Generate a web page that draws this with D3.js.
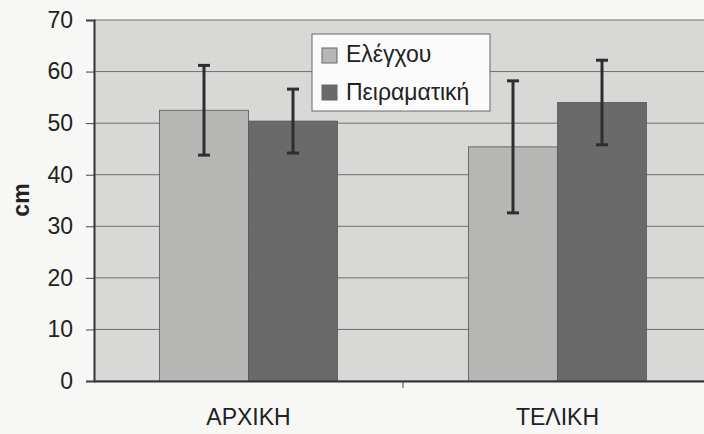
<!DOCTYPE html>
<html>
<head>
<meta charset="utf-8">
<script src="https://cdn.jsdelivr.net/npm/d3@7"></script>
<style>
  body { margin: 0; background: #f7f7f6; }
  svg { display: block; font-family: Arial, "Liberation Sans", sans-serif; }
</style>
</head>
<body>
<svg id="chart" width="704" height="434"></svg>
<script>
// Dữ liệu
const categories = ["ΑΡΧΙΚΗ", "ΤΕΛΙΚΗ"];
const seriesNames = ["Ελέγχου", "Πειραματική"];
const controlValues = [52.5, 45.4];
const controlErrors = [8.7, 12.8];
const experimentalValues = [50.4, 54.0];
const experimentalErrors = [6.2, 8.2];
const yTicks = [0, 10, 20, 30, 40, 50, 60, 70];

const rows = [];
categories.forEach((c, i) => {
  rows.push({cat: c, series: seriesNames[0], value: controlValues[i], err: controlErrors[i]});
  rows.push({cat: c, series: seriesNames[1], value: experimentalValues[i], err: experimentalErrors[i]});
});

const svg = d3.select("#chart"),
      margin = {top: 20, right: -8, bottom: 53, left: 94},
      width = +svg.attr("width") - margin.left - margin.right,
      height = +svg.attr("height") - margin.top - margin.bottom;

const g = svg.append("g").attr("transform", `translate(${margin.left},${margin.top})`);

const x = d3.scaleBand().domain(categories).range([0, width]).paddingInner(0).paddingOuter(0);
const x1 = d3.scaleBand().domain(seriesNames).range([65.5, x.bandwidth() - 65.5]);
const y = d3.scaleLinear().domain([0, 70]).range([height, 0]);

const color = d3.scaleOrdinal().domain(seriesNames).range(["#b6b6b4", "#6a6a6a"]);

// Nền vùng vẽ
g.append("rect")
  .attr("width", width).attr("height", height)
  .attr("fill", "#d8d8d6");

// Lưới ngang
g.selectAll("line.grid")
  .data(yTicks)
  .enter().append("line")
    .attr("class", "grid")
    .attr("x1", 0).attr("x2", width)
    .attr("y1", d => y(d)).attr("y2", d => y(d))
    .attr("stroke", "#6e6e6e").attr("stroke-width", 1);

// Vẽ cột
g.selectAll("rect.bar")
  .data(rows)
  .enter().append("rect")
    .attr("class", "bar")
    .attr("x", d => x(d.cat) + x1(d.series))
    .attr("y", d => y(d.value))
    .attr("width", x1.bandwidth())
    .attr("height", d => height - y(d.value))
    .attr("fill", d => color(d.series))
    .attr("stroke", "#555").attr("stroke-width", 0.8);

// Thanh sai số
const eb = g.selectAll("g.err")
  .data(rows)
  .enter().append("g")
    .attr("class", "err")
    .attr("transform", d => `translate(${x(d.cat) + x1(d.series) + x1.bandwidth() / 2},0)`);
eb.append("line")
  .attr("y1", d => y(d.value + d.err)).attr("y2", d => y(d.value - d.err))
  .attr("stroke", "#2e2e2e").attr("stroke-width", 3);
eb.selectAll("line.cap")
  .data(d => [d.value + d.err, d.value - d.err])
  .enter().append("line")
    .attr("class", "cap")
    .attr("x1", -6).attr("x2", 6)
    .attr("y1", v => y(v)).attr("y2", v => y(v))
    .attr("stroke", "#2e2e2e").attr("stroke-width", 3);

// Trục Y
const yAxis = g.append("g")
  .call(d3.axisLeft(y).tickValues(yTicks).tickSize(8).tickPadding(13));
yAxis.select(".domain").attr("stroke", "#333").attr("stroke-width", 2);
yAxis.selectAll(".tick line").attr("stroke", "#444");
yAxis.selectAll("text").style("font-size", "23px").attr("fill", "#222");

// Trục X
const xAxis = g.append("g")
  .attr("transform", `translate(0,${height})`)
  .call(d3.axisBottom(x).tickSize(0).tickPadding(28));
xAxis.select(".domain").attr("stroke", "#333").attr("stroke-width", 2);
xAxis.selectAll("text").style("font-size", "23px").attr("fill", "#222");
xAxis.selectAll("line.sep")
  .data(categories.slice(1))
  .enter().append("line")
    .attr("class", "sep")
    .attr("x1", d => x(d)).attr("x2", d => x(d))
    .attr("y1", 0).attr("y2", 7)
    .attr("stroke", "#444");

// Nhãn trục Y
svg.append("text")
  .attr("transform", "translate(29,200) rotate(-90)")
  .attr("text-anchor", "middle")
  .style("font-size", "23px")
  .style("font-weight", "bold")
  .attr("fill", "#222")
  .text("cm");

// Chú giải
const legend = svg.append("g").attr("transform", "translate(312,34)");
legend.append("rect")
  .attr("width", 178).attr("height", 77)
  .attr("fill", "#fbfbfb").attr("stroke", "#666").attr("stroke-width", 1);
seriesNames.forEach((s, i) => {
  legend.append("rect")
    .attr("x", 10).attr("y", 14 + i * 37)
    .attr("width", 15).attr("height", 15)
    .attr("fill", color(s)).attr("stroke", "#666");
  legend.append("text")
    .attr("x", 34).attr("y", 28 + i * 38)
    .style("font-size", "23px")
    .attr("fill", "#222")
    .text(s);
});
</script>
</body>
</html>
